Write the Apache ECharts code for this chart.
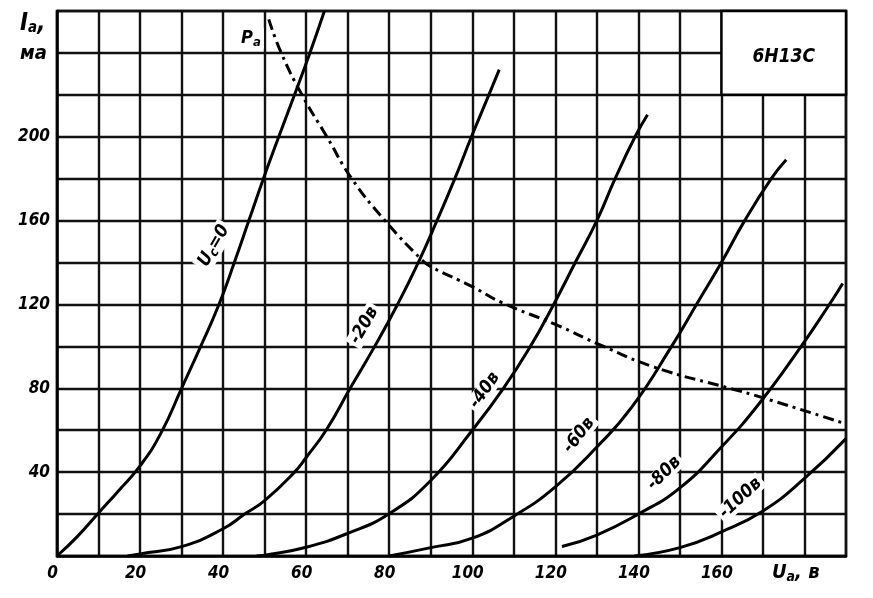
<!DOCTYPE html>
<html><head><meta charset="utf-8">
<script src="https://cdn.jsdelivr.net/npm/echarts@6/dist/echarts.min.js"></script>
<style>html,body{margin:0;padding:0;background:#fff}#c{width:873px;height:598px}</style>
</head><body><div id="c"></div>
<script>
// Tick labels
const xTickLabels = [0, 20, 40, 60, 80, 100, 120, 140, 160];
const yTickLabels = [40, 80, 120, 160, 200];

// Anode characteristics of 6Н13С: [Ua (в), Ia (ма)]
const ug0    = [[0,0],[5,9.5],[10,20.5],[15,31.5],[20,43],[25,58.5],[30,80],[34.6,100],[39,120],[42.7,140],[46.2,160],[49.7,180],[53.4,200],[57.2,220],[60.9,240],[64.4,260]];
const ugM20  = [[17,0],[20,1],[30,4.5],[40,13],[45.2,20],[50,26.4],[57.2,40],[60,47],[64.8,60],[70.6,80],[76.5,100],[82,120],[87,140],[91.5,160],[95.8,180],[99.8,200],[104,220],[106.5,232]];
const ugM40  = [[48,0],[50,0.4],[60,4.2],[70,10.8],[80,20.2],[90,36],[100,60],[107.5,80],[114,100],[119.6,120],[124.8,140],[130,160],[134.4,180],[139.2,200],[142.2,210.5]];
const ugM60  = [[80,0],[90,4],[100,8.5],[110,19],[120,33],[130,52],[138.4,71],[148,100],[154,120],[160,140],[165.6,160],[172,180],[175.6,189]];
const ugM80  = [[121.6,4.5],[130,10],[140,20],[150,32.5],[160,52],[169.2,73],[179.2,100],[186,120],[189.2,130]];
const ugM100 = [[139,0],[150,4],[160,11.5],[170,21.5],[180,37],[190,56]];
// Permissible anode dissipation curve Pа
const paCurve = [[51,256],[54,240],[59,220],[65,200],[71,180],[79,160],[88,141],[90,138],[100,128.5],[107,121],[120,110.5],[130.5,101],[144,90],[162,80],[170,75.5],[190,63]];

// Curve labels: text, anchor (Ua, Ia), rotation
const labelTexts  = ['{t|U}{s|с}{t|=0}', '{t|-20в}', '{t|-40в}', '{t|-60в}', '{t|-80в}', '{t|-100в}', '{t|P}{s|а}'];
const labelAnchors = [[37.8,148],[74,110],[103,79],[125.7,57.6],[146.2,39.5],[164.6,27.6],[46.7,247]];
const labelRotations = [60, 60, 55, 52, 45, 43, 0];
const tubeName = '6Н13С';
const tubeBox = [[160,220],[190,260]];

const FONT = "'DejaVu Sans Condensed','Liberation Sans Narrow','DejaVu Sans',sans-serif";
const chart = echarts.init(document.getElementById('c'));

function curve(data) {
  return { type:'line', data:data, smooth:0.5, showSymbol:false, silent:true,
    lineStyle:{ color:'#000', width:3 }, z:3 };
}

const labelData = labelAnchors.map((p, i) => ({
  value: p,
  label: { formatter: labelTexts[i], rotate: labelRotations[i] }
}));
labelData.push({ value: [(tubeBox[0][0]+tubeBox[1][0])/2, 238], label: { formatter: '{n|' + tubeName + '}', rotate: 0, backgroundColor: 'transparent' } });

const rich = {
  t: { fontFamily: FONT, fontStyle: 'italic', fontWeight: 'bold', fontSize: 18, color: '#000', textBorderWidth: 0 },
  s: { fontFamily: FONT, fontStyle: 'italic', fontWeight: 'bold', fontSize: 13, color: '#000', textBorderWidth: 0, padding: [8,0,0,0] },
  n: { fontFamily: FONT, fontStyle: 'italic', fontWeight: 'bold', fontSize: 19, color: '#000', textBorderWidth: 0 }
};

chart.setOption({
  backgroundColor: '#fff',
  animation: false,
  grid: { left: 57, right: 27, top: 11, bottom: 42, show: true, borderColor: '#000', borderWidth: 2.5 },
  xAxis: {
    type: 'value', min: 0, max: 190, interval: 10,
    axisLine: { show: true, lineStyle: { color: '#000', width: 2.5 } },
    axisTick: { show: false },
    splitLine: { show: true, lineStyle: { color: '#111', width: 2.4 } },
    axisLabel: { margin: 9, padding: [0, 9, 0, 0], fontFamily: FONT, fontStyle: 'italic', fontWeight: 'bold', fontSize: 17, color: '#000',
      formatter: v => xTickLabels.includes(v) ? String(v) : '' }
  },
  yAxis: {
    type: 'value', min: 0, max: 260, interval: 20,
    axisLine: { show: true, lineStyle: { color: '#000', width: 2.5 } },
    axisTick: { show: false },
    splitLine: { show: true, lineStyle: { color: '#111', width: 2.4 } },
    axisLabel: { margin: 7, fontFamily: FONT, fontStyle: 'italic', fontWeight: 'bold', fontSize: 17, color: '#000',
      formatter: v => yTickLabels.includes(v) ? String(v) : '' }
  },
  graphic: [
    { type: 'text', left: 20, top: 12, style: { text: '{m|I}{s|а}{m|,}', rich: {
        m: { fontFamily: FONT, fontStyle: 'italic', fontWeight: 'bold', fontSize: 24, color: '#000' },
        s: { fontFamily: FONT, fontStyle: 'italic', fontWeight: 'bold', fontSize: 15, color: '#000', padding: [8,0,0,0] } } } },
    { type: 'text', left: 20, top: 44, style: { text: 'ма', fontFamily: FONT, fontStyle: 'italic', fontWeight: 'bold', fontSize: 20, fill: '#000' } },
    { type: 'text', left: 772, top: 563, style: { text: '{m|U}{s|а}{m|, в}', rich: {
        m: { fontFamily: FONT, fontStyle: 'italic', fontWeight: 'bold', fontSize: 20, color: '#000' },
        s: { fontFamily: FONT, fontStyle: 'italic', fontWeight: 'bold', fontSize: 14, color: '#000', padding: [8,0,0,0] } } } }
  ],
  series: [
    { type: 'line', data: [], silent: true, z: 2,
      markArea: { silent: true, itemStyle: { color: '#fff', borderColor: '#000', borderWidth: 2.5 },
        data: [[{ coord: tubeBox[0] }, { coord: tubeBox[1] }]] } },
    curve(ug0), curve(ugM20), curve(ugM40), curve(ugM60), curve(ugM80), curve(ugM100),
    { type: 'line', data: paCurve, smooth: 0.5, showSymbol: false, silent: true, z: 3,
      lineStyle: { color: '#000', width: 3, type: [11, 5, 3, 5] } },
    { type: 'scatter', data: labelData, symbolSize: 0, silent: true, z: 5,
      itemStyle: { opacity: 1 },
      label: { show: true, position: 'inside', color: '#000', opacity: 1, backgroundColor: '#fff', padding: [0, 3], rich: rich } }
  ]
});
</script></body></html>
